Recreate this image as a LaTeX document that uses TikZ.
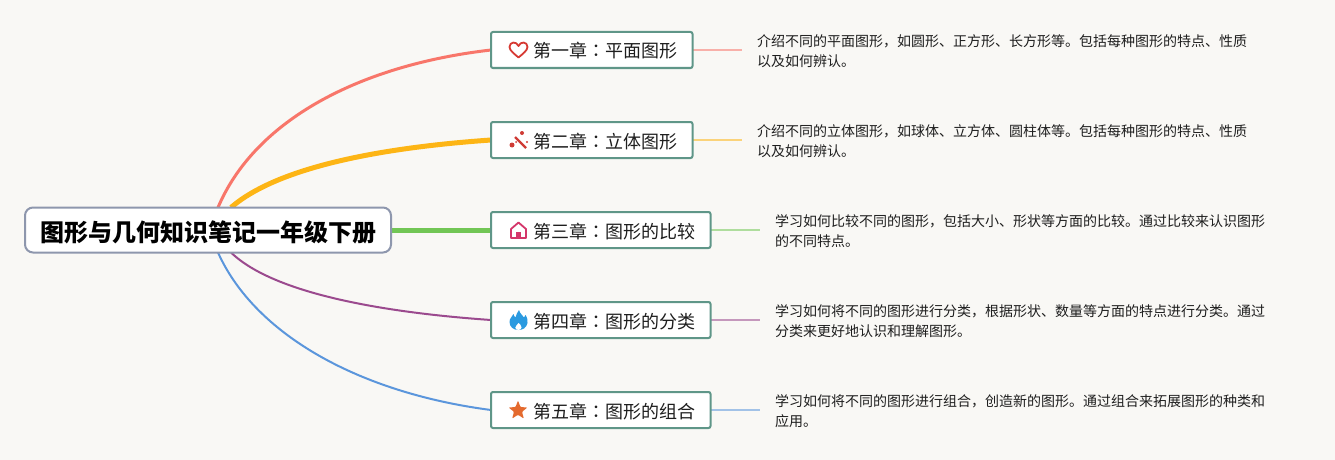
\documentclass[tikz,border=0pt]{standalone}
\usepackage{fontspec}
\setmainfont{Noto Sans CJK SC}
\newfontfamily\colonfont{Noto Sans CJK TC}
\usetikzlibrary{positioning,backgrounds}

\definecolor{pagebg}{HTML}{F9F8F5}
\definecolor{inkcol}{HTML}{1E1E1E}
\definecolor{rootedge}{HTML}{8E97AD}
\definecolor{chapedge}{HTML}{5F9688}
\definecolor{redcol}{HTML}{F8766A}
\definecolor{orangecol}{HTML}{FDB515}
\definecolor{greencol}{HTML}{72C655}
\definecolor{purplecol}{HTML}{9B4A8E}
\definecolor{bluecol}{HTML}{5B96DC}
\definecolor{hearticon}{HTML}{D63A33}
\definecolor{wandicon}{HTML}{CF3B35}
\definecolor{houseicon}{HTML}{D4366A}
\definecolor{flameicon}{HTML}{2A9AE0}
\definecolor{staricon}{HTML}{E46A2E}

\tikzset{
  rootbox/.style={draw=rootedge,fill=white,line width=2pt,rounded corners=8pt,outer sep=0pt,
    inner xsep=15pt,inner ysep=0pt,minimum height=45pt,text height=23.5pt,text depth=1.5pt,text=black,
    font=\fontsize{24}{28}\selectfont\bfseries},
  chapbox/.style={draw=chapedge,fill=white,line width=2pt,rounded corners=2pt,outer sep=0pt,
    inner xsep=15.5pt,inner ysep=0pt,minimum height=36pt,text height=17pt,text depth=1pt,text=inkcol,
    font=\fontsize{18}{22}\selectfont},
  descbox/.style={inner xsep=15pt,inner ysep=0pt,outer sep=0pt,align=left,text=inkcol,
    font=\fontsize{14}{20}\selectfont},
  stub/.style={line width=1.5pt}
}
% full-width punctuation
\newcommand{\fwcomma}{\char"FF0C\relax}
\newcommand{\chapname}[2]{\hspace*{26.5pt}#1{\colonfont\char"FF1A\relax}#2}

\begin{document}
\begin{tikzpicture}[x=1pt,y=-1pt]
\useasboundingbox (0,0) rectangle (1335,460);

% central title
\node[rootbox] (root) at (208,230) {图形与几何知识笔记一年级下册};

% chapters
\node[chapbox,anchor=west] (chapone) at (491,50) {\chapname{第一章}{平面图形}};
\node[chapbox,anchor=west] (chaptwo) at (491,140) {\chapname{第二章}{立体图形}};
\node[chapbox,anchor=west] (chapthree) at (491,230) {\chapname{第三章}{图形的比较}};
\node[chapbox,anchor=west] (chapfour) at (491,320) {\chapname{第四章}{图形的分类}};
\node[chapbox,anchor=west] (chapfive) at (491,410) {\chapname{第五章}{图形的组合}};

% descriptions
\node[descbox,right=49.5pt of chapone,yshift=-1pt] (descone) {介绍不同的平面图形\fwcomma 如圆形、正方形、长方形等。包括每种图形的特点、性质\\以及如何辨认。};
\node[descbox,right=49.5pt of chaptwo,yshift=-1pt] (desctwo) {介绍不同的立体图形\fwcomma 如球体、立方体、圆柱体等。包括每种图形的特点、性质\\以及如何辨认。};
\node[descbox,right=49.5pt of chapthree,yshift=-1pt] (descthree) {学习如何比较不同的图形\fwcomma 包括大小、形状等方面的比较。通过比较来认识图形\\的不同特点。};
\node[descbox,right=49.5pt of chapfour,yshift=-1pt] (descfour) {学习如何将不同的图形进行分类\fwcomma 根据形状、数量等方面的特点进行分类。通过\\分类来更好地认识和理解图形。};
\node[descbox,right=49.5pt of chapfive,yshift=-1pt] (descfive) {学习如何将不同的图形进行组合\fwcomma 创造新的图形。通过组合来拓展图形的种类和\\应用。};

\begin{scope}[on background layer]
\fill[pagebg] (0,0) rectangle (1335,460);

% branches from the title
\draw[redcol,line width=3pt] ([xshift=10pt]root.north) .. controls (255,120) and (360,65) .. (chapone.west);
\draw[orangecol,line width=5pt] ([xshift=23pt]root.north) .. controls (280,165) and (390,147) .. (chaptwo.west);
\draw[greencol,line width=5pt] (root.east) -- (chapthree.west);
\draw[purplecol,line width=2pt] ([xshift=23pt]root.south) .. controls (275,295) and (390,313) .. (chapfour.west);
\draw[bluecol,line width=2pt] ([xshift=10pt]root.south) .. controls (255,335) and (360,393) .. (chapfive.west);

% short lines to the descriptions
\foreach \a/\b/\c in {chapone/descone/redcol, chaptwo/desctwo/orangecol, chapthree/descthree/greencol, chapfour/descfour/purplecol, chapfive/descfive/bluecol} {
  \draw[stub,\c!55!pagebg] (\a.east) -- (\a.east -| \b.west);
}
\end{scope}

% icons
\begin{scope}[shift={(518.5,50)}]
\draw[line width=1.8pt,hearticon,line join=round] (0,7.5) .. controls (-4,4) and (-9,0.5) .. (-9,-3) .. controls (-9,-8.5) and (-2,-9) .. (0,-4) .. controls (2,-9) and (9,-8.5) .. (9,-3) .. controls (9,0.5) and (4,4) .. (0,7.5) -- cycle;
\end{scope}

\begin{scope}[shift={(518,140)},wandicon]
\draw[line width=2.2pt] (-3,-3) -- (8,8);
\fill (-6,5) circle (2.5);
\fill (4,-7) circle (2);
\fill (9,2) circle (1.2);
\fill (-2,2) circle (1);
\end{scope}

\begin{scope}[shift={(518.5,230)},houseicon]
\draw[line width=1.8pt,line join=round] (-7.5,8) -- (-7.5,-1) -- (0,-7.5) -- (7.5,-1) -- (7.5,8) -- cycle;
\fill (-2.5,8) rectangle (2.5,1.5);
\end{scope}

\begin{scope}[shift={(518.5,320)},flameicon]
\fill (0.5,-10) .. controls (1.5,-6) and (4.5,-4.5) .. (5.5,-2.5) .. controls (6.5,-3) and (7,-4) .. (7,-5) .. controls (9,-2) and (9.5,1) .. (9,3) .. controls (8,8) and (4,10) .. (0,10) .. controls (-5,10) and (-9,7) .. (-9,2) .. controls (-9,-2) and (-6,-3.5) .. (-5,-6) .. controls (-4.5,-4) and (-4,-3) .. (-3,-2.5) .. controls (-2.5,-5) and (-1,-8) .. (0.5,-10) -- cycle;
\fill[white] (0,3) .. controls (1,4.5) and (3.2,5) .. (3,7.5) .. controls (2.8,9) and (1.5,10) .. (0,10) .. controls (-2,10) and (-3.2,9) .. (-3.2,7.5) .. controls (-3.2,6) and (-1,5) .. (0,3) -- cycle;
\end{scope}

\begin{scope}[shift={(518,410.5)},staricon]
\fill[line join=round,rounded corners=1pt] (-90:10) -- (-54:4.2) -- (-18:10) -- (18:4.2) -- (54:10) -- (90:4.2) -- (126:10) -- (162:4.2) -- (198:10) -- (234:4.2) -- cycle;
\end{scope}
\end{tikzpicture}
\end{document}
